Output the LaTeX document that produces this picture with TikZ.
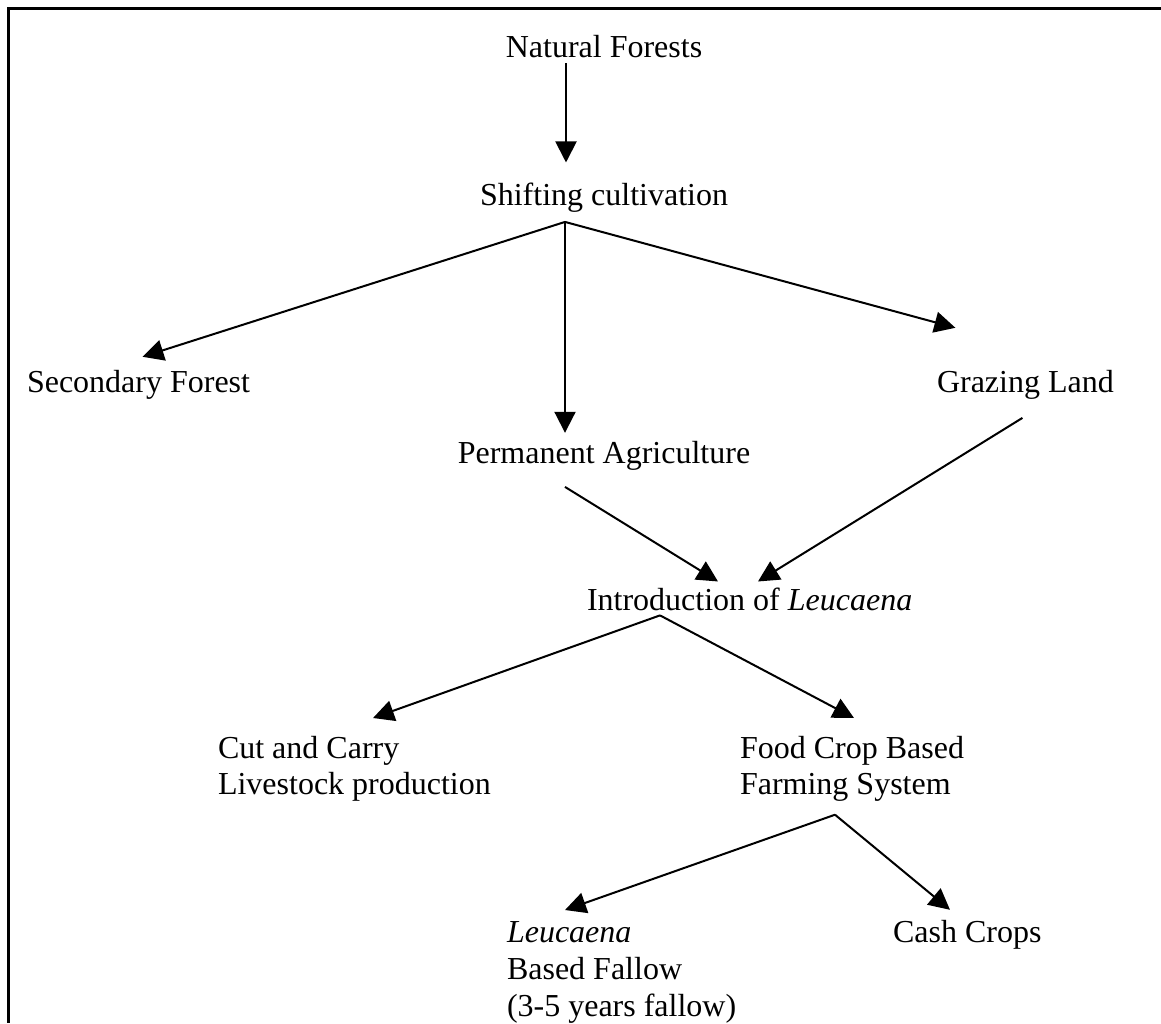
\documentclass[tikz,border=0pt]{standalone}
\usepackage{fontspec}
\setmainfont{Liberation Serif}
\usetikzlibrary{arrows.meta}

\tikzset{
  lbl/.style={inner sep=0pt, outer sep=0pt, font=\fontsize{16}{18.3}\selectfont},
  arr/.style={-{Triangle[length=10.5pt,width=10.5pt]}, line width=1pt}
}

\begin{document}
\begin{tikzpicture}[x=0.5pt, y=-0.5pt]

      \useasboundingbox (0,0) rectangle (1161,1023);
      \draw[line width=1.5pt] (1161,8) -- (8,8) -- (8,1023);

      \node[lbl, anchor=base] (nf) at (604,57) {Natural Forests};
      \node[lbl, anchor=base] (sc) at (604,205) {Shifting cultivation};
      \node[lbl, anchor=base west] (sf) at (27,392) {Secondary Forest};
      \node[lbl, anchor=base west] (gl) at (937,392) {Grazing Land};
      \node[lbl, anchor=base] (pa) at (604,463) {Permanent Agriculture};
      \node[lbl, anchor=base west] (intro) at (587,610) {Introduction of \textit{Leucaena}};
      \node[lbl, anchor=north west, align=left] (cc) at (218,736) {Cut and Carry\\Livestock production};
      \node[lbl, anchor=north west, align=left] (fc) at (740,736) {Food Crop Based\\Farming System};
      \node[lbl, anchor=north west, align=left] (lf) at (507,922) {\textit{Leucaena}\\Based Fallow\\(3-5 years fallow)};
      \node[lbl, anchor=base west] (cash) at (893,942) {Cash Crops};

      \coordinate (scfork) at ([xshift=-19.5pt,yshift=-5pt]sc.south);
      \coordinate (introfork) at ([xshift=36.5pt,yshift=-2.5pt]intro.south west);
      \coordinate (fcfork) at ([xshift=47.5pt,yshift=-6.5pt]fc.south west);

      \draw[arr] ([xshift=-19pt,yshift=-3pt]nf.south) -- ([xshift=-19pt,yshift=10pt]sc.north);
      \draw[arr] (scfork) -- ([xshift=2pt,yshift=6.5pt]sf.north);
      \draw[arr] (scfork) -- ([xshift=-19.5pt,yshift=4pt]pa.north);
      \draw[arr] (scfork) -- ([xshift=-35pt,yshift=21pt]gl.north);
      \draw[arr] ([xshift=-19.5pt,yshift=-8.5pt]pa.south) -- ([xshift=65.5pt,yshift=3pt]intro.north west);
      \draw[arr] ([xshift=-1.5pt,yshift=-9.5pt]gl.south) -- ([xshift=85.5pt,yshift=3pt]intro.north west);
      \draw[arr] (introfork) -- ([xshift=77.5pt,yshift=9pt]cc.north west);
      \draw[arr] (introfork) -- ([xshift=57pt,yshift=9pt]fc.north west);
      \draw[arr] (fcfork) -- ([xshift=29pt,yshift=6pt]lf.north west);
      \draw[arr] (fcfork) -- ([xshift=28.5pt,yshift=5pt]cash.north west);

    \end{tikzpicture}
\end{document}
